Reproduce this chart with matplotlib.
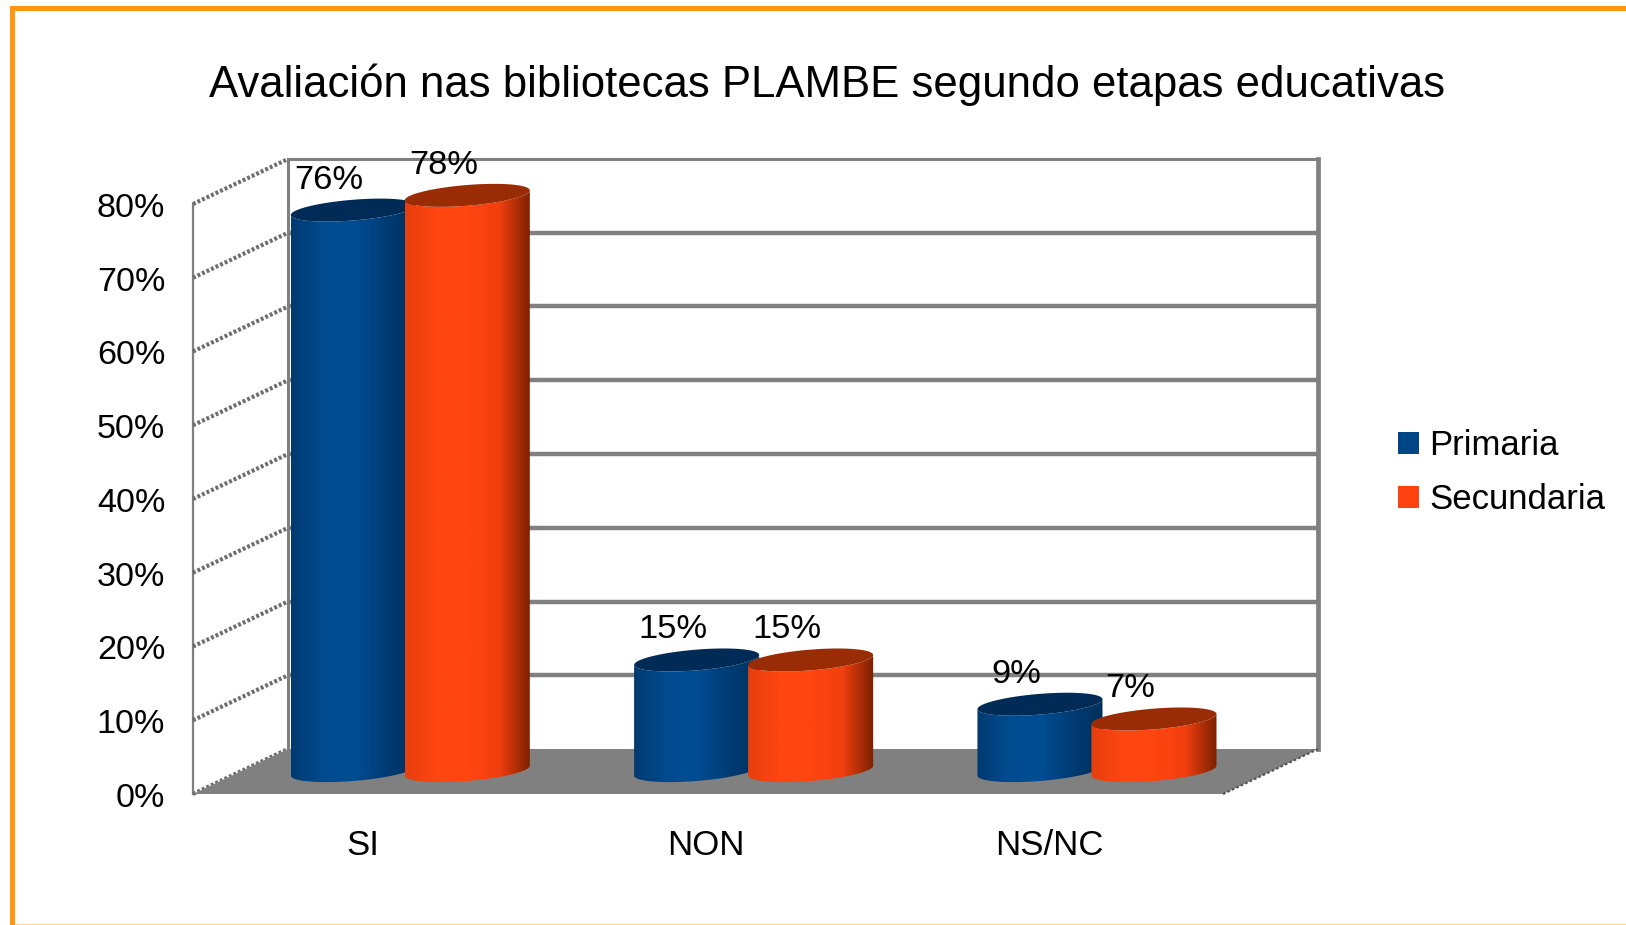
"""
Avaliacion nas bibliotecas PLAMBE: 3D looking cylinder bars drawn on a flat axes.
"""

import numpy as np
import matplotlib
matplotlib.use('Agg')
import matplotlib.pyplot as plt
from matplotlib.colors import LinearSegmentedColormap
from matplotlib.patches import Patch, Polygon, Rectangle
from matplotlib.transforms import ScaledTranslation

TITLE = 'Avaliación nas bibliotecas PLAMBE segundo etapas educativas'
categories = ['SI', 'NON', 'NS/NC']
series_names = ['Primaria', 'Secundaria']
primaria = [76, 15, 9]
secundaria = [78, 15, 7]
y_ticks = [0, 10, 20, 30, 40, 50, 60, 70, 80]

W, H = 1626, 925
DPI = 100
GREY = '#808080'

plt.rcParams['font.family'] = ['Liberation Sans', 'DejaVu Sans']

# the axes is the front plane of the box, everything else is shifted by depth
LEFT, RIGHT, TOP, BOTTOM = 193, 1223, 204, 794
X_PX = (RIGHT - LEFT) / 3.0
Y_PX = (BOTTOM - TOP) / 80.0
DEPTH_X = 95 / X_PX
DEPTH_Y = 45 / Y_PX
BAR_DEPTH = 0.52
BAR_OFFSET = 0.166
GROUP_CENTER = 0.489
ELL_UX = 56.4 / X_PX
ELL_VX = 27 / X_PX
ELL_VY = 11.5 / Y_PX


def cylinder(ax, x, value, colors, top_color, zorder):
    'Draws one cylinder, x is the centre on the front plane.'
    cx = x + BAR_DEPTH * DEPTH_X
    base = BAR_DEPTH * DEPTH_Y
    t0 = np.arctan2(ELL_VX, ELL_UX)
    half = np.hypot(ELL_UX, ELL_VX)

    # lower half of the base ellipse, then back along the top
    t = np.linspace(t0 + np.pi, t0 + 2 * np.pi, 60)
    ex = cx + ELL_UX * np.cos(t) + ELL_VX * np.sin(t)
    ey = ELL_VY * np.sin(t)
    body_x = np.concatenate([ex, ex[::-1]])
    body_y = np.concatenate([base + ey, base + value + ey[::-1]])
    body = Polygon(np.column_stack([body_x, body_y]), closed=True,
                   facecolor='none', edgecolor='none', transform=ax.transData)
    ax.add_patch(body)

    cmap = LinearSegmentedColormap.from_list('shade', colors)
    grad = np.linspace(0, 1, 256).reshape(1, -1)
    im = ax.imshow(grad, cmap=cmap, aspect='auto', zorder=zorder,
                   extent=(cx - half, cx + half, base - ELL_VY * 1.2,
                           base + value + ELL_VY * 1.2))
    # the tall bars go above the front plane, so clip to the figure
    im.set_clip_box(ax.figure.bbox)
    im.set_clip_path(body)

    # top ellipse
    t = np.linspace(0, 2 * np.pi, 120)
    top_x = cx + ELL_UX * np.cos(t) + ELL_VX * np.sin(t)
    top_y = base + value + ELL_VY * np.sin(t)
    ax.fill(top_x, top_y, color=top_color, lw=0, zorder=zorder + 0.1,
            clip_on=False)
    ax.annotate('%d%%' % value, xy=(cx, base + value), xytext=(-24, 30),
                textcoords='offset pixels', ha='center', va='center',
                fontsize=24.8, color='black', zorder=20, annotation_clip=False)


def draw_box(ax):
    'Walls, gridlines and floor.'
    for y in y_ticks[1:-1]:
        ax.plot([DEPTH_X, 3 + DEPTH_X], [y + DEPTH_Y, y + DEPTH_Y], color=GREY,
                lw=3.2, clip_on=False, zorder=1, solid_capstyle='butt')
    top = y_ticks[-1] + DEPTH_Y
    ax.plot([DEPTH_X, 3 + DEPTH_X], [top, top], color=GREY, lw=2.2,
            clip_on=False, zorder=1)
    ax.plot([DEPTH_X, DEPTH_X], [DEPTH_Y, top], color=GREY, lw=2.2,
            clip_on=False, zorder=1)
    ax.plot([3 + DEPTH_X, 3 + DEPTH_X], [DEPTH_Y, top], color=GREY, lw=3.4,
            clip_on=False, zorder=1)
    ax.plot([0, 0], [0, y_ticks[-1]], color=GREY, lw=1.6, clip_on=False,
            zorder=1)
    # side wall lines, jagged in the picture
    for y in y_ticks:
        ax.plot([0, DEPTH_X], [y, y + DEPTH_Y], color='#6e6e6e', lw=3,
                ls=(0, (0.7, 0.5)), clip_on=False, zorder=1)
    floor = [(0, 0), (3, 0), (3 + DEPTH_X, DEPTH_Y), (DEPTH_X, DEPTH_Y)]
    ax.add_patch(Polygon(floor, closed=True, facecolor=GREY, edgecolor='none',
                         clip_on=False, zorder=2))
    ax.plot([3, 3 + DEPTH_X], [0, DEPTH_Y], color='#555555', lw=1.6,
            ls=(0, (1.2, 1)), clip_on=False, zorder=2)


def draw_border(fig):
    'Orange frame of the picture, open on the right.'
    orange = '#ff9510'
    boxes = [(10, 6, W - 10, 5, orange), (10, 6, 5, H - 6, orange),
             (15, H - 1, W - 15, 1, '#ffd08a')]
    for x, y, w, h, color in boxes:
        fig.add_artist(Rectangle((x / W, 1 - (y + h) / H), w / W, h / H,
                                 transform=fig.transFigure, facecolor=color,
                                 edgecolor='none'))


def main():
    fig = plt.figure(figsize=(W / DPI, H / DPI), dpi=DPI, facecolor='white')
    ax = fig.add_axes([LEFT / W, 1 - BOTTOM / H, (RIGHT - LEFT) / W,
                       (BOTTOM - TOP) / H])
    ax.patch.set_visible(False)
    for spine in ax.spines.values():
        spine.set_visible(False)

    draw_border(fig)
    draw_box(ax)

    blue = ['#003a70', '#004b8f', '#004d94', '#003c75', '#00305c']
    red = ['#e63f0e', '#ff4510', '#ff4510', '#f23f0e', '#7a2000']
    for i in range(len(categories)):
        center = i + GROUP_CENTER
        cylinder(ax, center - BAR_OFFSET, primaria[i], blue, '#002b57', 5 + i)
        cylinder(ax, center + BAR_OFFSET, secundaria[i], red, '#9a2c05', 5.5 + i)

    ax.set_xlim(0, 3)
    ax.set_ylim(0, 80)
    ax.set_xticks([i + 0.495 for i in range(len(categories))])
    ax.set_xticklabels(categories, fontsize=25)
    ax.set_yticks(y_ticks)
    ax.set_yticklabels(['%d%%' % y for y in y_ticks], fontsize=24.6)
    ax.tick_params(axis='both', length=0)
    ax.tick_params(axis='x', pad=25)
    ax.tick_params(axis='y', pad=20)
    # the labels sit a little under their gridline
    shift = ScaledTranslation(0, -0.7 / 72, fig.dpi_scale_trans)
    for label in ax.get_yticklabels():
        label.set_transform(label.get_transform() + shift)

    fig.text(0.5085, 1 - 85 / H, TITLE, ha='center', va='center', fontsize=31.5,
             color='black')

    handles = [Patch(facecolor='#004586', edgecolor='none', label=series_names[0]),
               Patch(facecolor='#ff420e', edgecolor='none', label=series_names[1])]
    fig.legend(handles=handles, loc='upper left',
               bbox_to_anchor=(1398 / W, 1 - 429 / H), frameon=False,
               fontsize=25, handlelength=0.6, handleheight=0.6,
               handletextpad=0.3, labelspacing=0.6, borderpad=0, borderaxespad=0)

    fig.savefig('out.png', dpi=DPI)


if __name__ == '__main__':
    main()
